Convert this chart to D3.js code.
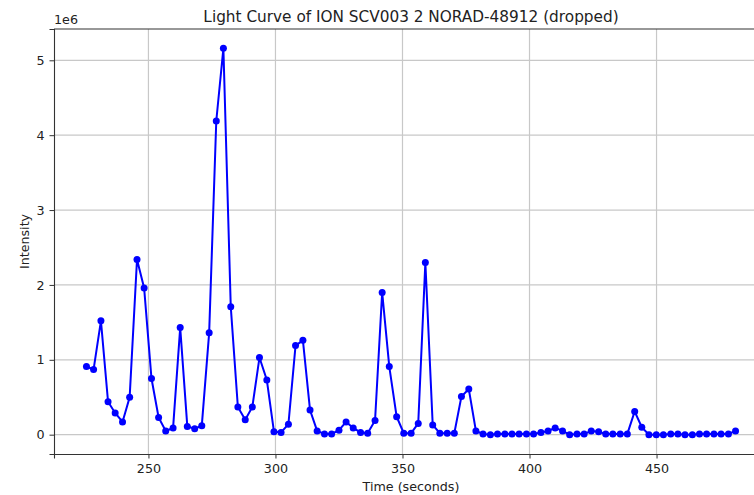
<!DOCTYPE html>
<html>
<head>
<meta charset="utf-8">
<script src="https://cdn.jsdelivr.net/npm/d3@7"></script>
<style>
  body { margin: 0; background: #fff; }
  text { font-family: "DejaVu Sans", sans-serif; fill: #222; }
</style>
</head>
<body>
<div id="chart"></div>
<script>
// time stamps (seconds)
var times = [225.6, 228.4, 231.3, 234.1, 236.9, 239.8, 242.6, 245.5, 248.3, 251.2,
             254.0, 256.8, 259.7, 262.5, 265.3, 268.2, 271.0, 273.9, 276.7, 279.5,
             282.4, 285.2, 288.1, 290.9, 293.7, 296.6, 299.4, 302.2, 305.1, 307.9,
             310.8, 313.6, 316.4, 319.3, 322.1, 325.0, 327.8, 330.6, 333.5, 336.3,
             339.2, 342.0, 344.8, 347.7, 350.5, 353.4, 356.2, 359.0, 361.9, 364.7,
             367.6, 370.4, 373.2, 376.1, 378.9, 381.7, 384.6, 387.4, 390.3, 393.1,
             395.9, 398.8, 401.6, 404.5, 407.3, 410.1, 413.0, 415.8, 418.7, 421.5,
             424.3, 427.2, 430.0, 432.8, 435.7, 438.5, 441.4, 444.2, 447.0, 449.9,
             452.7, 455.6, 458.4, 461.2, 464.1, 466.9, 469.7, 472.6, 475.4, 478.3,
             481.1];

// intensity, in units of 1e6
var intensity = [0.91, 0.87, 1.52, 0.44, 0.29, 0.17, 0.50, 2.34, 1.96, 0.75,
                 0.23, 0.05, 0.09, 1.43, 0.11, 0.08, 0.12, 1.36, 4.19, 5.16,
                 1.71, 0.37, 0.20, 0.37, 1.03, 0.73, 0.04, 0.03, 0.14, 1.19,
                 1.26, 0.33, 0.05, 0.01, 0.01, 0.06, 0.17, 0.09, 0.03, 0.02,
                 0.19, 1.90, 0.91, 0.24, 0.02, 0.02, 0.15, 2.30, 0.13, 0.02,
                 0.02, 0.02, 0.51, 0.61, 0.05, 0.01, 0.00, 0.01, 0.01, 0.01,
                 0.01, 0.01, 0.01, 0.03, 0.05, 0.09, 0.05, 0.00, 0.01, 0.01,
                 0.05, 0.04, 0.01, 0.01, 0.01, 0.01, 0.31, 0.10, 0.00, 0.00,
                 0.00, 0.01, 0.01, 0.00, 0.00, 0.01, 0.01, 0.01, 0.01, 0.01,
                 0.05];

var xTicks = [250, 300, 350, 400, 450];
var yTicks = [0, 1, 2, 3, 4, 5];

function drawChart(){

    var w = 754, h = 495;
    var pLeft = 54, pRight = 768, pTop = 29, pBottom = 454;

    var data = times.map(function(t, i){ return {t: t, v: intensity[i]}; });

    // matplotlib style 5% margins
    var xMin = d3.min(times), xMax = d3.max(times);
    var yMin = d3.min(intensity), yMax = d3.max(intensity);
    var xPad = (xMax - xMin) * 0.05, yPad = (yMax - yMin) * 0.05;

    var x = d3.scaleLinear().domain([xMin - xPad, xMax + xPad]).range([pLeft, pRight]);
    var y = d3.scaleLinear().domain([yMin - yPad, yMax + yPad]).range([pBottom, pTop]);

    var svg = d3.select("#chart").append("svg")
        .attr("width", w)
        .attr("height", h);

    // grid
    svg.append("g").selectAll("line")
        .data(xTicks).enter().append("line")
        .attr("x1", d => x(d)).attr("x2", d => x(d))
        .attr("y1", pTop).attr("y2", pBottom)
        .attr("stroke", "#c8c8c8").attr("stroke-width", 1.2);

    svg.append("g").selectAll("line")
        .data(yTicks).enter().append("line")
        .attr("x1", pLeft).attr("x2", pRight)
        .attr("y1", d => y(d)).attr("y2", d => y(d))
        .attr("stroke", "#c8c8c8").attr("stroke-width", 1.2);

    // axes
    var xAxis = svg.append("g")
        .attr("transform", "translate(0," + pBottom + ")")
        .call(d3.axisBottom(x).tickValues(xTicks).tickSize(4.5).tickPadding(5));
    var yAxis = svg.append("g")
        .attr("transform", "translate(" + pLeft + ",0)")
        .call(d3.axisLeft(y).tickValues(yTicks).tickSize(4.5).tickPadding(5).tickFormat(d3.format("d")));

    [xAxis, yAxis].forEach(function(a){
        a.select(".domain").attr("stroke", "#333").attr("stroke-width", 1.1);
        a.selectAll(".tick line").attr("stroke", "#333").attr("stroke-width", 1);
        a.selectAll(".tick text").style("font-family", "DejaVu Sans, sans-serif")
            .style("font-size", "12.7px").attr("fill", "#222");
    });

    // top spine
    svg.append("line")
        .attr("x1", pLeft).attr("x2", pRight)
        .attr("y1", pTop).attr("y2", pTop)
        .attr("stroke", "#333").attr("stroke-width", 1.1);

    // line + markers
    var line = d3.line().x(d => x(d.t)).y(d => y(d.v));

    svg.append("path")
        .datum(data)
        .attr("fill", "none")
        .attr("stroke", "#0000ff")
        .attr("stroke-width", 2)
        .attr("d", line);

    svg.append("g").selectAll("circle")
        .data(data).enter().append("circle")
        .attr("cx", d => x(d.t))
        .attr("cy", d => y(d.v))
        .attr("r", 3.5)
        .attr("fill", "#0000ff");

    // texts
    svg.append("text")
        .attr("x", (pLeft + pRight) / 2)
        .attr("y", 22)
        .attr("text-anchor", "middle")
        .style("font-size", "15.3px")
        .text("Light Curve of ION SCV003 2 NORAD-48912 (dropped)");

    svg.append("text")
        .attr("x", pLeft)
        .attr("y", 24)
        .style("font-size", "12.7px")
        .text("1e6");

    svg.append("text")
        .attr("x", (pLeft + pRight) / 2)
        .attr("y", 491)
        .attr("text-anchor", "middle")
        .style("font-size", "12.7px")
        .text("Time (seconds)");

    svg.append("text")
        .attr("transform", "translate(29," + ((pTop + pBottom) / 2) + ") rotate(-90)")
        .attr("text-anchor", "middle")
        .style("font-size", "12.7px")
        .text("Intensity");
}

drawChart();
</script>
</body>
</html>
